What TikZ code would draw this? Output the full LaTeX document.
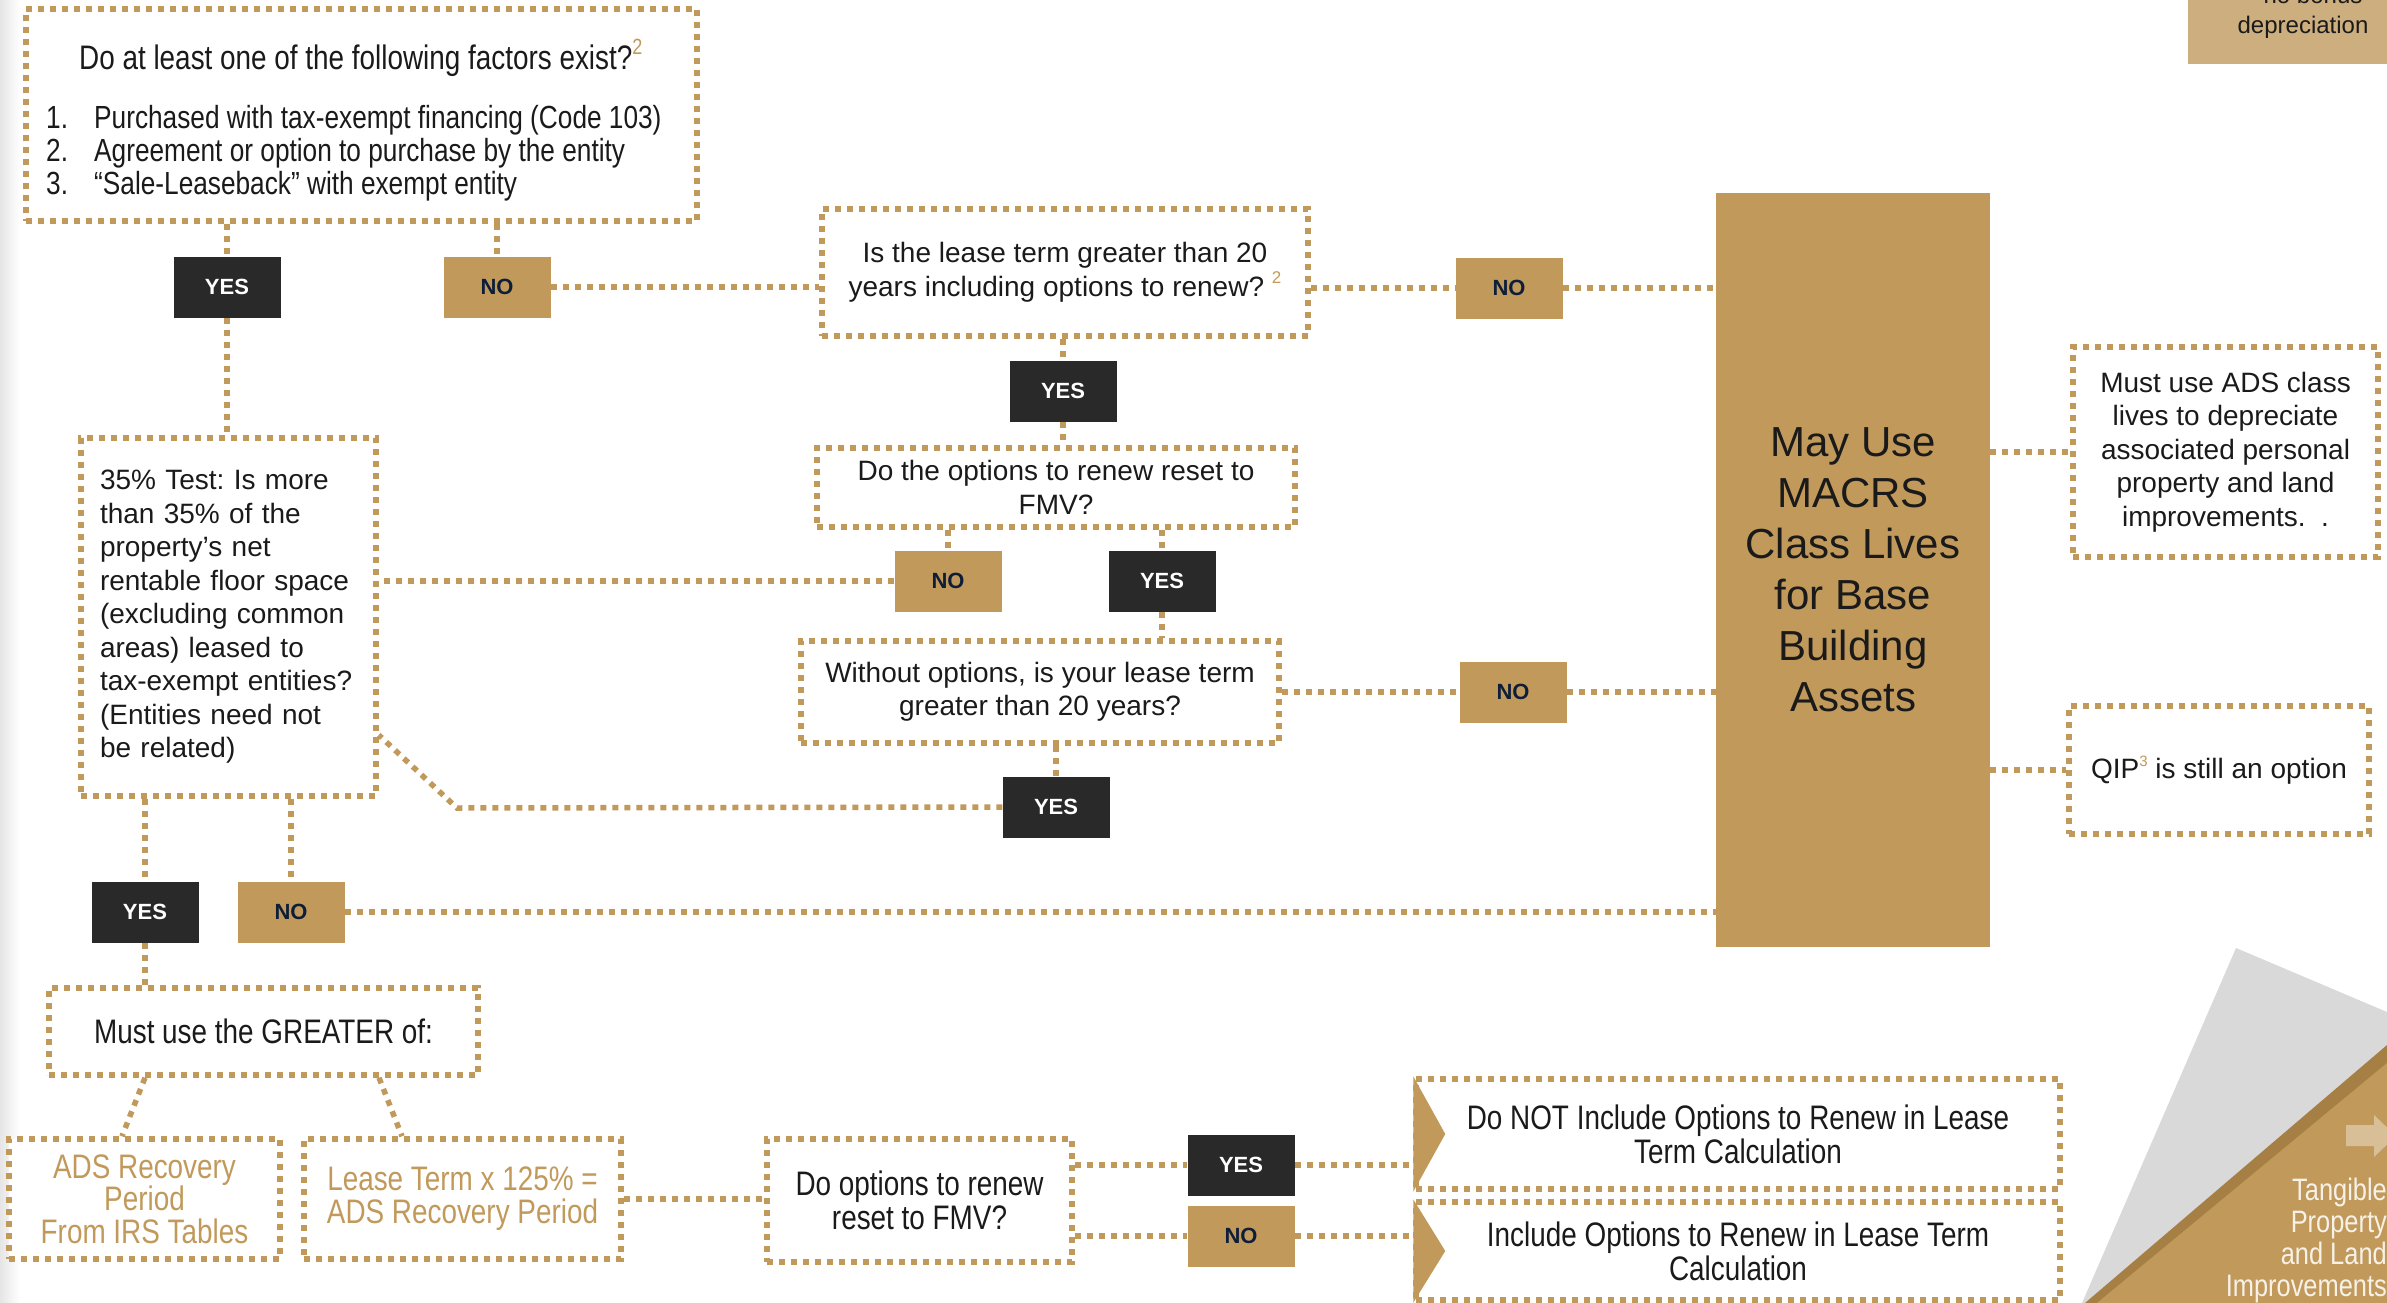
\documentclass[tikz,border=0pt]{standalone}
\usepackage{fontspec}
\setmainfont{Liberation Sans}
\newfontfamily\narrowfont[FakeStretch=0.82]{Liberation Sans}
\frenchspacing
\definecolor{gold}{HTML}{C19A5B}
\definecolor{taggold}{HTML}{CDAE7E}
\definecolor{darkgold}{HTML}{A67F44}
\definecolor{arrowc}{HTML}{D8BF98}
\definecolor{grayc}{HTML}{D9D9D9}
\definecolor{dark}{HTML}{292929}
\definecolor{navy}{HTML}{0E1E38}
\definecolor{txt}{HTML}{1A1A1A}
\definecolor{lighttxt}{HTML}{F7F1E8}
\newcommand\regtxt{\fontsize{28}{33.5}\selectfont}
\newcommand\nartxt{\narrowfont\fontsize{34}{34}\selectfont}
\newcommand\bigtxt{\fontsize{42}{51}\selectfont}
\newcommand\lbltxt{\bfseries\fontsize{22}{22}\selectfont}
\newcommand\gsup[2]{\raisebox{0.45em}{\fontsize{#1}{#1}\selectfont\color{gold}#2}}
\begin{document}
\begin{tikzpicture}[x=1pt,y=-1pt,
  conn/.style={draw=gold, line width=5.5pt, dash pattern=on 6pt off 6pt},
  dbox/.style={draw=gold, line width=5.5pt, dash pattern=on 6pt off 6pt, fill=white, inner sep=0pt, align=center, text=txt},
  lbl/.style={inner sep=0pt, minimum width=107pt, minimum height=61pt, font=\lbltxt},
  yesb/.style={lbl, fill=dark, text=white},
  nob/.style={lbl, fill=gold, text=navy},
]
\useasboundingbox (0,0) rectangle (2387,1303);
\clip (0,0) rectangle (2387,1303);
\fill[white] (0,0) rectangle (2387,1303);
\shade[left color=black!10, right color=white] (0,0) rectangle (20,1303);

% ---- boxes ----
\node[dbox, minimum width=671pt, minimum height=212pt] (f1) at (361.5,115) {};
\node[font=\nartxt, text=txt, anchor=west, inner sep=0pt] (f1h) at (79,58) {Do at least one of the following factors exist?\gsup{22}{2}};
\node[font=\narrowfont\fontsize{32}{33}\selectfont, text=txt, anchor=west, align=left, inner sep=0pt] (f1l) at (46,153)
 {\makebox[48pt][l]{1.}Purchased with tax-exempt financing (Code 103)\\\makebox[48pt][l]{2.}Agreement or option to purchase by the entity\\\makebox[48pt][l]{3.}“Sale-Leaseback” with exempt entity};

\node[dbox, minimum width=486pt, minimum height=127pt, font=\regtxt] (l20) at (1065,272.5)
 {Is the lease term greater than 20\\years including options to renew? \gsup{17}{2}};

\node[fill=gold, minimum width=274pt, minimum height=754pt, inner sep=0pt, align=center, font=\bigtxt, text=txt] (macrs) at (1853,570)
 {May Use\\MACRS\\Class Lives\\for Base\\Building\\Assets};

\node[dbox, minimum width=478pt, minimum height=79pt, font=\regtxt] (rfmv) at (1056,487.5)
 {Do the options to renew reset to\\FMV?};

\node[dbox, minimum width=478pt, minimum height=102pt, font=\regtxt] (wo) at (1040,692)
 {Without options, is your lease term\\greater than 20 years?};

\node[dbox, minimum width=295pt, minimum height=358pt, font=\regtxt, text width=257pt, align=left] (t35) at (228.5,617)
 {35\% Test: Is more\\than 35\% of the\\property’s net\\rentable floor space\\(excluding common\\areas) leased to\\tax-exempt entities?\\(Entities need not\\be related)};

\node[dbox, minimum width=429pt, minimum height=87pt, font=\nartxt] (greater) at (263.5,1031.5) {Must use the GREATER of:};

\node[dbox, minimum width=271pt, minimum height=120pt, font=\narrowfont\fontsize{34}{32.5}\selectfont, text=gold] (ads) at (144.5,1199)
 {ADS Recovery\\Period\\From IRS Tables};

\node[dbox, minimum width=317pt, minimum height=120pt, font=\narrowfont\fontsize{34}{33}\selectfont, text=gold] (lt) at (462.5,1199)
 {Lease Term x 125\% =\\ADS Recovery Period};

\node[dbox, minimum width=305pt, minimum height=123pt, font=\nartxt] (dor) at (919.5,1200.5)
 {Do options to renew\\reset to FMV?};

\node[dbox, minimum width=644pt, minimum height=110pt, font=\nartxt] (dnot) at (1738,1134)
 {Do NOT Include Options to Renew in Lease\\Term Calculation};
\node[dbox, minimum width=644pt, minimum height=98pt, font=\nartxt] (incl) at (1738,1251)
 {Include Options to Renew in Lease Term\\Calculation};
\fill[gold] (dnot.north west) -- ([xshift=32pt]dnot.west) -- (dnot.south west) -- cycle;
\fill[gold] (incl.north west) -- ([xshift=32pt]incl.west) -- (incl.south west) -- cycle;

\node[dbox, minimum width=305pt, minimum height=210pt, font=\regtxt] (adsc) at (2225.5,452)
 {Must use ADS class\\lives to depreciate\\associated personal\\property and land\\improvements.~~.};

\node[dbox, minimum width=300pt, minimum height=128pt, font=\regtxt] (qip) at (2219,770)
 {QIP\gsup{15}{3} is still an option};

% ---- labels ----
\node[yesb] (y1) at (227,287) {YES};
\node[nob]  (n1) at (497,287) {NO};
\node[nob]  (n2) at (1509,288) {NO};
\node[yesb] (y2) at (1063,391) {YES};
\node[nob]  (n3) at (948,581) {NO};
\node[yesb] (y3) at (1162,581) {YES};
\node[nob]  (n4) at (1513,692) {NO};
\node[yesb] (y4) at (1056,807) {YES};
\node[yesb] (y5) at (145,912) {YES};
\node[nob]  (n5) at (291,912) {NO};
\node[yesb] (y6) at (1241,1165) {YES};
\node[nob]  (n6) at (1241,1236) {NO};

% ---- connectors ----
\draw[conn] (y1.north |- f1.south) -- (y1.north);
\draw[conn] (n1.north |- f1.south) -- (n1.north);
\draw[conn] (n1.east) -- (n1.east -| l20.west);
\draw[conn] (l20.east |- n2.west) -- (n2.west);
\draw[conn] (n2.east) -- (n2.east -| macrs.west);
\draw[conn] (y2.north |- l20.south) -- (y2.north);
\draw[conn] (y2.south) -- (y2.south |- rfmv.north);
\draw[conn] (n3.north |- rfmv.south) -- (n3.north);
\draw[conn] (y3.north |- rfmv.south) -- (y3.north);
\draw[conn] (n3.west) -- (n3.west -| t35.east);
\draw[conn] (y3.south) -- (y3.south |- wo.north);
\draw[conn] (wo.east |- n4.west) -- (n4.west);
\draw[conn] (n4.east) -- (n4.east -| macrs.west);
\draw[conn] (y4.north |- wo.south) -- (y4.north);
\coordinate (bend) at (457,808);
\draw[conn] (y4.west) -- (bend) -- (t35.east |- 0,735);
\draw[conn] (y1.south) -- (y1.south |- t35.north);
\draw[conn] (y5.north |- t35.south) -- (y5.north);
\draw[conn] (n5.north |- t35.south) -- (n5.north);
\draw[conn] (n5.east) -- (n5.east -| macrs.west);
\draw[conn] (y5.south) -- (y5.south |- greater.north);
\draw[conn] (greater.south -| 145,0) -- (ads.north -| 122,0);
\draw[conn] (greater.south -| 379,0) -- (lt.north -| 402,0);
\draw[conn] (lt.east) -- (lt.east -| dor.west);
\draw[conn] (dor.east |- y6.west) -- (y6.west);
\draw[conn] (y6.east) -- (y6.east -| dnot.west);
\draw[conn] (dor.east |- n6.west) -- (n6.west);
\draw[conn] (n6.east) -- (n6.east -| incl.west);
\draw[conn] (macrs.east |- adsc.west) -- (adsc.west);
\draw[conn] (macrs.east |- qip.west) -- (qip.west);

% ---- top-right tag ----
\fill[taggold] (2188,-10) rectangle (2387,64);
\node[font=\fontsize{24}{30}\selectfont, text=txt, align=center, inner sep=0pt] (tag) at (2303,12) {– no bonus\\depreciation};

% ---- bottom-right decoration ----
\fill[grayc] (2236,948) -- (2387,1012) -- (2387,1303) -- (2082,1303) -- cycle;
\fill[darkgold] (2085,1303) -- (2387,1045) -- (2387,1303) -- cycle;
\fill[gold] (2097,1303) -- (2387,1063) -- (2387,1303) -- cycle;
\fill[arrowc] (2346,1125) -- (2374,1125) -- (2374,1115) -- (2396,1136) -- (2374,1157) -- (2374,1146) -- (2346,1146) -- cycle;
\node[font=\narrowfont\fontsize{31}{32}\selectfont, text=lighttxt, align=right, anchor=east, inner sep=0pt] (tang) at (2387,1240)
 {Tangible\\Property\\and Land\\Improvements};
\end{tikzpicture}
\end{document}
